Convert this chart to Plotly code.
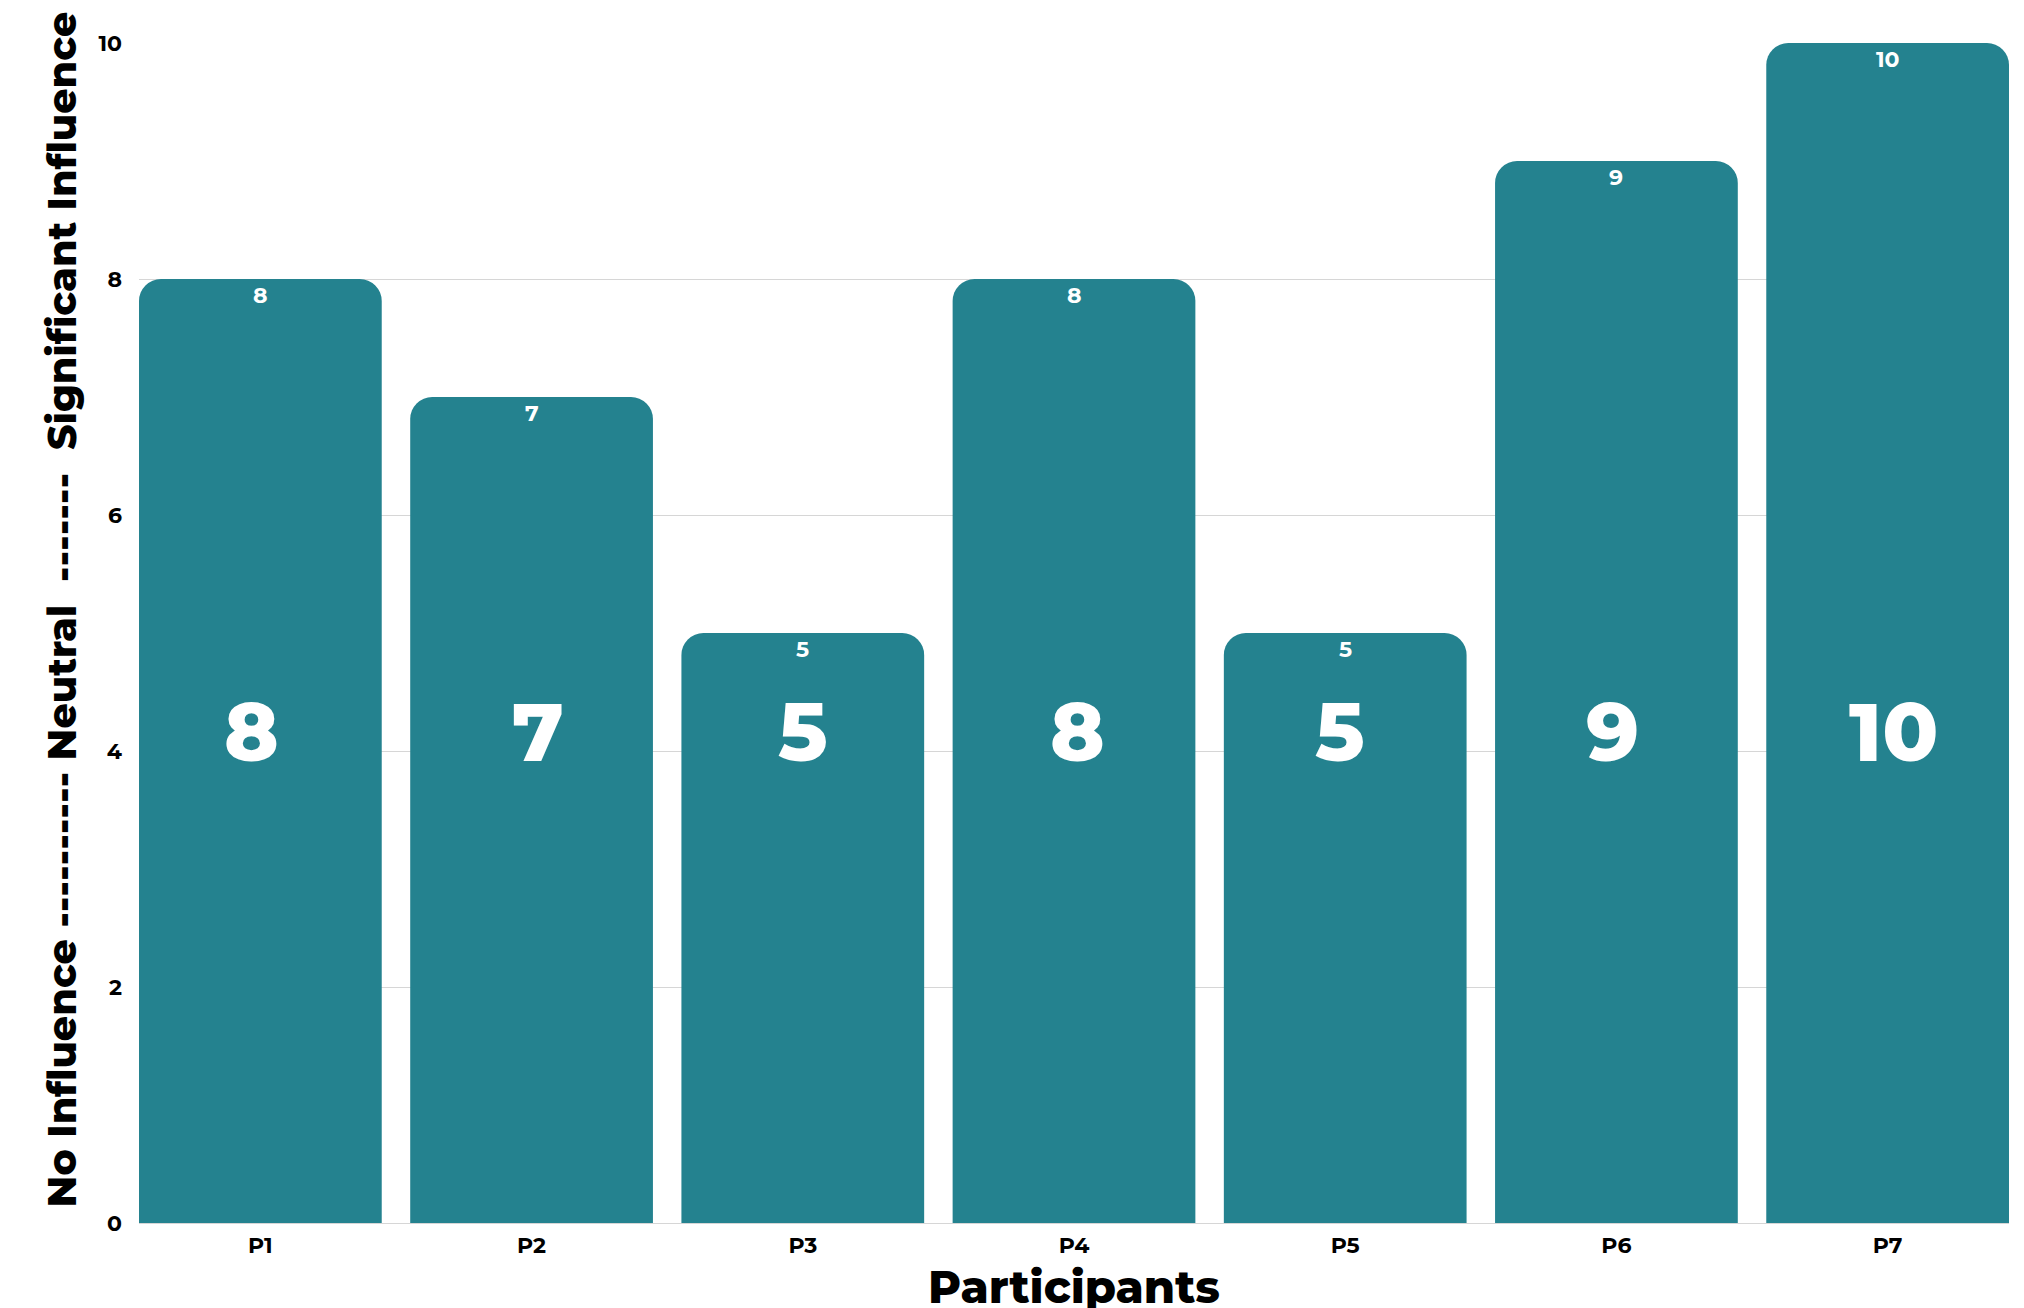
import plotly.graph_objects as go

participants = ["P1", "P2", "P3", "P4", "P5", "P6", "P7"]
ratings = [8, 7, 5, 8, 5, 9, 10]
y_ticks = [0, 2, 4, 6, 8, 10]

BAR = "#24828F"
FONT = "Montserrat, Inter, 'Open Sans', sans-serif"
big_label_shift = [-9, 6, 0, 3, -5, -4, 6]  # horizontal pixel nudges of big labels

fig = go.Figure()
fig.add_trace(go.Bar(
    x=participants,
    y=ratings,
    marker=dict(color=BAR, line=dict(width=0), cornerradius=22),
    hoverinfo="skip",
))

for p, v, dx in zip(participants, ratings, big_label_shift):
    # small value label near bar top
    fig.add_annotation(
        x=p, y=v, xref="x", yref="y",
        text=str(v), showarrow=False,
        font=dict(family=FONT, size=22, color="white", weight=700),
        xanchor="center", yanchor="middle", yshift=-16,
    )
    # large value label in bar body
    fig.add_annotation(
        x=p, y=4.16, xref="x", yref="y",
        text=str(v), showarrow=False,
        font=dict(family=FONT, size=82, color="white", weight=800),
        xanchor="center", yanchor="middle", xshift=dx,
    )

# y-axis title (as annotation to match its offset position)
fig.add_annotation(
    x=0, y=0.52, xref="paper", yref="paper",
    text="No Influence ---------- Neutral  -------  Significant Influence",
    textangle=-90, showarrow=False,
    font=dict(family=FONT, size=39.5, color="black", weight=800),
    xanchor="center", yanchor="middle", xshift=-77,
)

fig.update_layout(
    width=2024, height=1308,
    margin=dict(l=131, r=23, t=35, b=93),
    paper_bgcolor="white", plot_bgcolor="white",
    bargap=0.105,
    showlegend=False,
    font=dict(family=FONT, color="black"),
)
fig.update_xaxes(
    range=[-0.4475, 6.4475],
    showgrid=False, zeroline=False, showline=False,
    ticks="", ticklabelstandoff=7,
    tickfont=dict(family=FONT, size=22, color="black", weight=700),
    title=dict(text="Participants", font=dict(family=FONT, size=45, color="black", weight=800), standoff=3),
)
fig.update_yaxes(
    range=[0, 10], tickvals=y_ticks,
    showgrid=True, gridcolor="#d6d6d6", gridwidth=1,
    zeroline=True, zerolinecolor="#d6d6d6", zerolinewidth=1,
    showline=False, ticks="", ticklabelstandoff=16,
    tickfont=dict(family=FONT, size=22, color="black", weight=700),
)

fig.write_html("out.html")
